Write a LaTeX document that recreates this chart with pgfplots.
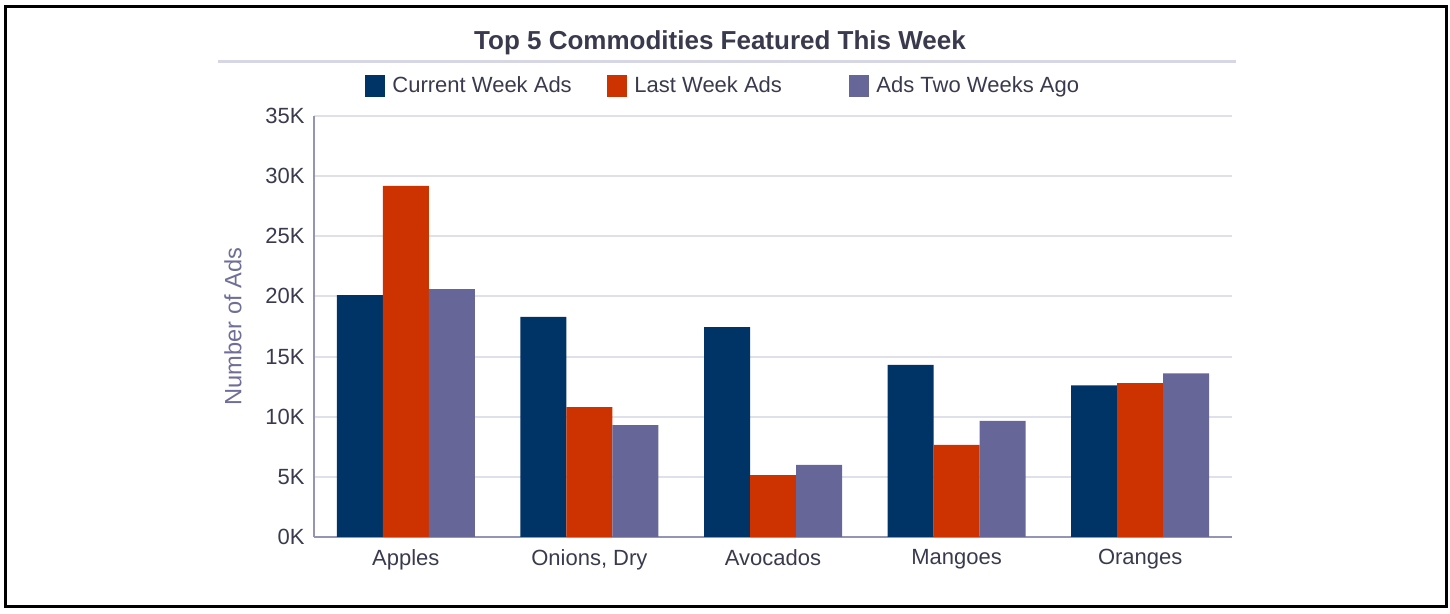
\documentclass[border=0pt]{standalone}
\usepackage{fontspec}
\setmainfont{Liberation Sans}
\usepackage{pgfplots}
\pgfplotsset{compat=1.18}

\definecolor{cur}{HTML}{003366}
\definecolor{last}{HTML}{CC3300}
\definecolor{two}{HTML}{666699}
\definecolor{txt}{HTML}{3A3A4E}
\definecolor{ylab}{HTML}{6E6E98}
\definecolor{gridc}{HTML}{E0E0EA}
\definecolor{axc}{HTML}{9494B4}
\definecolor{rulec}{HTML}{D6D6E4}

\begin{document}
\begin{tikzpicture}
\useasboundingbox (-157pt,-38.5pt) rectangle (568pt,268.5pt);
\begin{axis}[
  at={(0,0)}, anchor=south west,
  scale only axis, width=459pt, height=210.5pt,
  ybar=0pt, bar width=23pt,
  every axis plot/.append style={draw=none,
    legend image code/.code={\fill[##1] (0pt,-5.5pt) rectangle (10pt,5.5pt);}},
  xmin=-0.5, xmax=4.5, ymin=0, ymax=35000,
  xtick=data,
  xticklabels={Apples,{Onions, Dry},Avocados,Mangoes,Oranges},
  ytick={0,5000,...,35000},
  yticklabels={0K,5K,10K,15K,20K,25K,30K,35K},
  scaled y ticks=false,
  major tick length=0pt,
  axis x line*=bottom, axis y line*=left,
  axis line style={axc, line width=1pt},
  ymajorgrids, grid style={gridc, line width=1pt},
  ticklabel style={font=\fontsize{11}{13}\selectfont, text=txt},
  yticklabel style={inner sep=0pt, xshift=-4.5pt},
  xticklabel style={inner sep=0pt, yshift=-6pt},
  ylabel={Number of Ads},
  y label style={at={(axis description cs:-0.0882,0.5)}, anchor=center,
    font=\fontsize{11.8}{13}\selectfont, text=ylab},
  legend columns=3,
  legend style={at={(axis description cs:0.0556,1.071)}, anchor=west,
    draw=none, fill=none, inner sep=0pt, nodes={inner sep=0pt},
    font=\fontsize{11}{13}\selectfont, text=txt},
]
\addplot[fill=cur] coordinates {(0,20100) (1,18300) (2,17450) (3,14300) (4,12600)};
\addlegendentry{\hspace{3.5pt}\makebox[107.5pt][l]{Current Week Ads}}
\addplot[fill=last] coordinates {(0,29200) (1,10800) (2,5150) (3,7650) (4,12800)};
\addlegendentry{\hspace{3.5pt}\makebox[107.5pt][l]{Last Week Ads}}
\addplot[fill=two] coordinates {(0,20600) (1,9300) (2,6000) (3,9650) (4,13600)};
\addlegendentry{\hspace{3.5pt}\makebox[107.5pt][l]{Ads Two Weeks Ago}}
\end{axis}
\node[font=\bfseries\fontsize{13}{15}\selectfont, text=txt] at (203pt,247pt)
  {Top 5 Commodities Featured This Week};
\draw[rulec, line width=1.5pt] (-48pt,237.75pt) -- (461pt,237.75pt);
\draw[black, line width=1.5pt] (-154pt,-35pt) rectangle (566pt,265pt);
\end{tikzpicture}
\end{document}
